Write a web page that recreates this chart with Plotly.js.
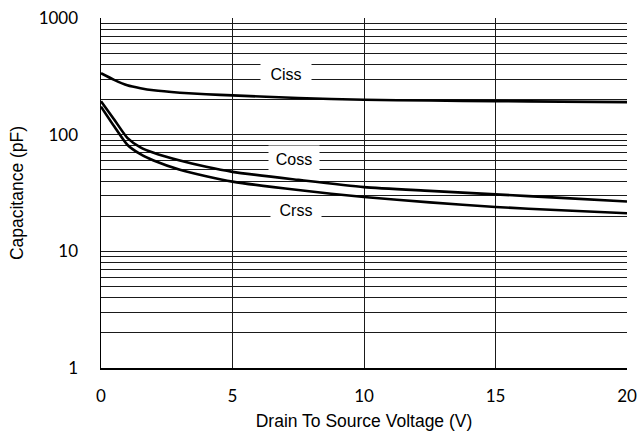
<!DOCTYPE html>
<html><head><meta charset="utf-8">
<script src="https://cdn.plot.ly/plotly-3.0.1.min.js"></script>
<style>html,body{margin:0;padding:0;background:#fff}</style>
</head><body><div id="chart" style="width:638px;height:439px"></div>
<script>
const vds  = [0, 0.5, 1, 1.5, 2, 3, 4, 5, 7.5, 10, 12.5, 15, 17.5, 20];
const ciss = [336, 295, 265, 250, 240, 229, 222, 217, 206, 199, 196, 194, 192, 190];
const coss = [193, 135, 94, 78, 70, 60, 53, 48, 41, 35.5, 33, 30.8, 28.7, 26.7];
const crss = [174, 118, 82, 68, 60, 50, 44, 39.6, 33.5, 29.2, 26.3, 24, 22.5, 21.2];
const labels = ["Ciss", "Coss", "Crss"];
const labelX = [7.03, 7.32, 7.41];
const labelY = [331, 62, 22.6];

const line = {color: '#000', width: 2.6, shape: 'spline', smoothing: 0.6};
const traces = [ciss, coss, crss].map((v, i) => ({
  x: vds, y: v, mode: 'lines', line: line, name: labels[i], hoverinfo: 'none'
}));

const annotations = labels.map((t, i) => ({
  x: labelX[i], y: Math.log10(labelY[i]), xref: 'x', yref: 'y', text: t,
  showarrow: false, bgcolor: '#fff', borderpad: 4, width: 42, height: 18,
  font: {family: 'Liberation Sans, Arial, sans-serif', size: 16, color: '#000'}
}));

const layout = {
  width: 638, height: 439,
  margin: {l: 101, r: 11, t: 18, b: 71},
  paper_bgcolor: '#fff', plot_bgcolor: '#fff',
  showlegend: false,
  xaxis: {
    range: [0, 20], tickvals: [0, 5, 10, 15, 20], ticks: '',
    showgrid: true, gridcolor: '#1a1a1a', gridwidth: 1,
    showline: true, linecolor: '#000', linewidth: 1.5, zeroline: false,
    tickfont: {family: 'Lato, Carlito, sans-serif', size: 17, color: '#000'},
    ticklabelstandoff: 12,
    title: {text: 'Drain To Source Voltage (V)', standoff: 10,
      font: {family: 'Liberation Sans, Arial, sans-serif', size: 17.5, color: '#000'}}
  },
  yaxis: {
    type: 'log', range: [0, 3], tickvals: [1, 10, 100, 1000],
    ticktext: ['1', '10', '100', '1000'], ticks: '',
    showgrid: true, gridcolor: '#1a1a1a', gridwidth: 1,
    showline: true, linecolor: '#000', linewidth: 1.5, zeroline: false,
    minor: {tickvals: [2,3,4,5,6,7,8,9,20,30,40,50,60,70,80,90,200,300,400,500,600,700,800,900],
      showgrid: true, gridcolor: '#1a1a1a', gridwidth: 1, ticks: ''},
    tickfont: {family: 'Lato, Carlito, sans-serif', size: 17, color: '#000'},
    ticklabelstandoff: 18,
    title: {text: 'Capacitance (pF)', standoff: 10,
      font: {family: 'Liberation Sans, Arial, sans-serif', size: 17.5, color: '#000'}}
  },
  annotations: annotations
};
Plotly.newPlot('chart', traces, layout, {displayModeBar: false, staticPlot: true});
</script></body></html>
